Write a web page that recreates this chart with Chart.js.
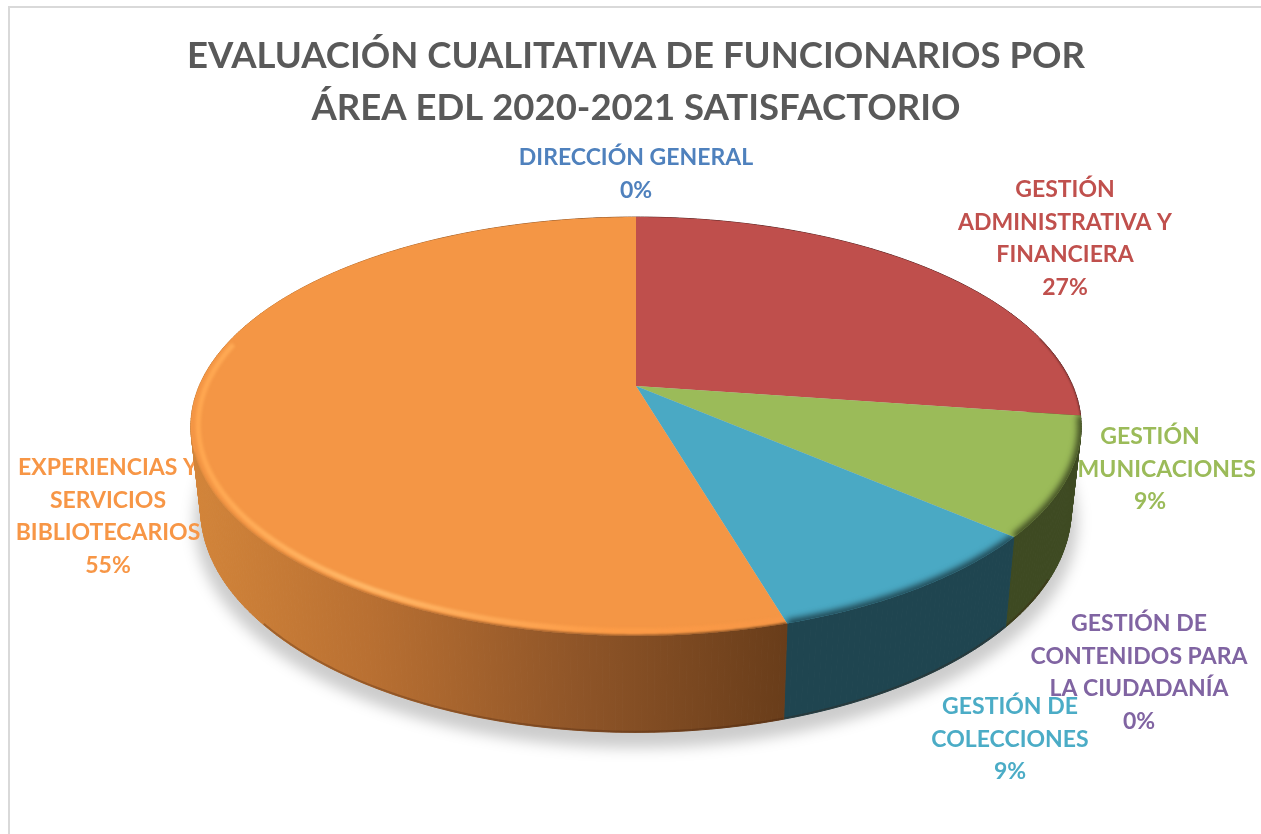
<!DOCTYPE html>
<html>
<head>
<meta charset="utf-8">
<title>Evaluación cualitativa</title>
<script src="https://cdn.jsdelivr.net/npm/chart.js@4"></script>
<style>
  html, body { margin: 0; background: #fff; }
  #wrap { width: 1261px; height: 834px; }
</style>
</head>
<body>
<div id="wrap"><canvas id="myChart" width="1261" height="834"></canvas></div>
<script>
const titleLines = ["EVALUACIÓN CUALITATIVA DE FUNCIONARIOS POR", "ÁREA EDL 2020-2021 SATISFACTORIO"];
const categories = [
  "DIRECCIÓN GENERAL",
  "GESTIÓN ADMINISTRATIVA Y FINANCIERA",
  "GESTIÓN COMUNICACIONES",
  "GESTIÓN DE COLECCIONES",
  "GESTIÓN DE CONTENIDOS PARA LA CIUDADANÍA",
  "EXPERIENCIAS Y SERVICIOS BIBLIOTECARIOS",
];
const values = [0, 3, 1, 1, 0, 6];
const sliceColors = ["#4f81bd", "#bf4f4c", "#9bbb59", "#4aa9c4", "#8064a2", "#f49645"];
const labelColors = ["#4f81bd", "#c0504d", "#9bbb59", "#4bacc6", "#8064a2", "#f79646"];
const wallColors = ["#27405e", "#5e2725", "#3e4a22", "#1f4550", "#3f3251", "#7a4a1e"];
const labelLines = [
  ["DIRECCIÓN GENERAL"],
  ["GESTIÓN", "ADMINISTRATIVA Y", "FINANCIERA"],
  ["GESTIÓN", "COMUNICACIONES"],
  ["GESTIÓN DE", "COLECCIONES"],
  ["GESTIÓN DE", "CONTENIDOS PARA", "LA CIUDADANÍA"],
  ["EXPERIENCIAS Y", "SERVICIOS", "BIBLIOTECARIOS"],
];
// centre x and first line y of each data label
const labelPos = [[636, 158], [1065, 190], [1150, 437], [1010, 707], [1139, 624], [108, 468]];

const total = values.reduce((a, b) => a + b, 0);
const k = 0.193; // perspective of the tilted disc

function project(arc, angle, bottom, scale) {
  const R = arc.outerRadius;
  const u = Math.cos(angle) * scale, v = Math.sin(angle) * scale;
  const d = 1 - k * v;
  const a = (bottom ? 1.765 : 1.805) * R, b = (bottom ? 0.888 : 0.833) * R;
  const top = bottom ? arc.y + 0.331 * R : arc.y;
  return [arc.x + a * u / d, top + b * v / d];
}

function traceCurve(ctx, arc, from, to, bottom, scale, move) {
  const n = Math.max(2, Math.ceil(Math.abs(to - from) / 0.01));
  for (let i = 0; i <= n; i++) {
    const p = project(arc, from + (to - from) * i / n, bottom, scale);
    if (i === 0 && move) ctx.moveTo(p[0], p[1]); else ctx.lineTo(p[0], p[1]);
  }
}

function slicePath(ctx, arc) {
  ctx.beginPath();
  ctx.moveTo(arc.x, arc.y);
  traceCurve(ctx, arc, arc.startAngle, arc.endAngle, false, 1, false);
  ctx.closePath();
}

function wallFill(ctx, i) {
  if (i !== 5) return wallColors[i];
  const g = ctx.createLinearGradient(190, 0, 785, 0);
  g.addColorStop(0, "#d3853a");
  g.addColorStop(0.3, "#b97032");
  g.addColorStop(0.65, "#8f5528");
  g.addColorStop(1, "#693d1a");
  return g;
}

const pie3d = {
  id: "pie3d",
  beforeDraw(chart) {
    const ctx = chart.ctx;
    ctx.save();
    ctx.strokeStyle = "#d9d9d9";
    ctx.lineWidth = 2;
    ctx.beginPath();
    ctx.moveTo(9, 834);
    ctx.lineTo(9, 7);
    ctx.lineTo(1261, 7);
    ctx.stroke();
    ctx.restore();
  },
  beforeDatasetsDraw(chart) {
    const ctx = chart.ctx;
    const arcs = chart.getDatasetMeta(0).data;
    const first = arcs[0];

    // soft shadow under the disc
    ctx.save();
    ctx.filter = "blur(7px)";
    ctx.fillStyle = "rgba(0,0,0,0.2)";
    ctx.beginPath();
    traceCurve(ctx, { x: first.x, y: first.y + 11, outerRadius: first.outerRadius }, 0, Math.PI * 2, true, 1.014, true);
    ctx.closePath();
    ctx.fill();
    ctx.restore();

    // data labels sit behind the pie
    ctx.save();
    ctx.font = "bold 23px Lato";
    ctx.textAlign = "center";
    ctx.textBaseline = "middle";
    values.forEach((val, i) => {
      const lines = labelLines[i].concat(Math.round(val / total * 100) + "%");
      ctx.fillStyle = labelColors[i];
      lines.forEach((line, j) => ctx.fillText(line, labelPos[i][0], labelPos[i][1] + j * 32.4));
    });
    ctx.restore();

    // side walls
    arcs.forEach((arc, i) => {
      if (values[i] === 0) return;
      const fill = wallFill(ctx, i);
      const n = Math.ceil((arc.endAngle - arc.startAngle) / 0.012);
      ctx.save();
      ctx.fillStyle = fill;
      ctx.strokeStyle = fill;
      ctx.lineWidth = 1;
      for (let s = 0; s < n; s++) {
        const a0 = arc.startAngle + (arc.endAngle - arc.startAngle) * s / n;
        const a1 = arc.startAngle + (arc.endAngle - arc.startAngle) * (s + 1) / n;
        const p = [project(arc, a0, false, 1), project(arc, a1, false, 1), project(arc, a1, true, 1), project(arc, a0, true, 1)];
        ctx.beginPath();
        ctx.moveTo(p[0][0], p[0][1]);
        p.slice(1).forEach(q => ctx.lineTo(q[0], q[1]));
        ctx.closePath();
        ctx.fill();
        ctx.stroke();
      }
      // darker line along the foot of the wall
      ctx.strokeStyle = "rgba(60,30,10,0.28)";
      ctx.lineWidth = 2;
      const from = Math.max(arc.startAngle, 0.5), to = Math.min(arc.endAngle, Math.PI - 0.7);
      if (to > from) {
        ctx.beginPath();
        traceCurve(ctx, arc, from, to, true, 0.998, true);
        ctx.stroke();
      }
      ctx.restore();
    });

    // top faces with the bevel along the rim
    arcs.forEach((arc, i) => {
      if (values[i] === 0) return;
      slicePath(ctx, arc);
      ctx.fillStyle = arc.options.backgroundColor;
      ctx.fill();

      ctx.save();
      slicePath(ctx, arc);
      ctx.clip();
      if (i === 5) {
        const g = ctx.createLinearGradient(190, 0, 785, 0);
        g.addColorStop(0, "#ffa64f");
        g.addColorStop(0.3, "#ffb868");
        g.addColorStop(0.7, "#fd9c47");
        g.addColorStop(1, "#f79646");
        ctx.filter = "blur(1.6px)";
        ctx.strokeStyle = g;
        ctx.lineWidth = 5;
        ctx.beginPath();
        traceCurve(ctx, arc, arc.startAngle, Math.PI * 1.07, false, 0.984, true);
        ctx.stroke();
        ctx.filter = "blur(1.2px)";
        ctx.strokeStyle = wallFill(ctx, 5);
        ctx.lineWidth = 3;
        ctx.beginPath();
        traceCurve(ctx, arc, arc.startAngle, Math.PI * 0.9, false, 1.002, true);
        ctx.stroke();
      } else {
        const from = i === 1 ? -0.25 : arc.startAngle;
        ctx.filter = i === 1 ? "blur(1px)" : "blur(3px)";
        ctx.strokeStyle = wallColors[i];
        ctx.lineWidth = i === 1 ? 2 : 9;
        ctx.beginPath();
        traceCurve(ctx, arc, from, arc.endAngle, false, 1.002, true);
        ctx.stroke();
      }
      ctx.restore();
    });
    return false;
  },
};

const chart = new Chart(document.getElementById("myChart").getContext("2d"), {
  type: "pie",
  data: {
    labels: categories,
    datasets: [{ data: values, backgroundColor: sliceColors, borderWidth: 0 }],
  },
  options: {
    responsive: false,
    animation: false,
    layout: { padding: { left: 11, bottom: 206 } },
    plugins: {
      legend: { display: false },
      tooltip: { enabled: false },
      title: {
        display: true,
        text: titleLines,
        color: "#595959",
        font: { family: "Lato", weight: "bold", size: 36.5, lineHeight: 1.425 },
        padding: { top: 30, bottom: 10 },
      },
    },
  },
  plugins: [pie3d],
});
</script>
</body>
</html>
